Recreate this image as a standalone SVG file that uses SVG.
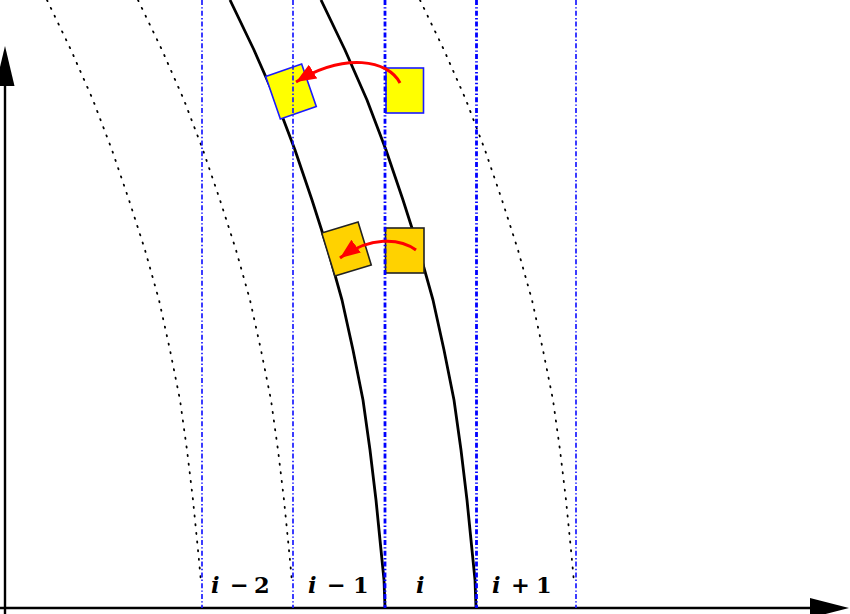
<svg xmlns="http://www.w3.org/2000/svg" xmlns:xlink="http://www.w3.org/1999/xlink" width="850" height="614" viewBox="0 0 850 614">
<style>
.dot{fill:none;stroke:#000;stroke-width:1.8;stroke-dasharray:1.2 7.5;stroke-linecap:round}
.solid{fill:none;stroke:#000;stroke-width:2.8;stroke-linejoin:round}
.thin{stroke:#1a1aff;stroke-width:1.7;stroke-dasharray:5 2.2 1.4 2.2}
.thick{stroke:#0000ff;stroke-width:2.8;stroke-dasharray:5 2.2 1.4 2.2}
.lbl{font-family:"DejaVu Serif","Liberation Serif",serif;font-size:22.5px;font-weight:bold}
.it{font-style:italic}
.red{fill:none;stroke:#ff0000;stroke-width:3}
</style>
<defs>
<polyline id="crv" points="47,0 71,50 93,100 112,150 129,200 145,250 159,300 170,350 180,400 187,450 193,500 198,550 201,580 202,608"/>
<polyline id="crvd" points="47,0 71,50 93,100 112,150 129,200 145,250 159,300 170,350 180,400 187,450 193,500 198,550 201,582"/>
<marker id="ah" markerUnits="userSpaceOnUse" markerWidth="20" markerHeight="16" refX="20" refY="8" orient="auto" viewBox="0 0 20 16">
<path d="M0,0 L20,8 L0,16 z" fill="#ff0000"/>
</marker>
</defs>
<g id="axes">
<line x1="5" y1="614" x2="5" y2="84" stroke="#000" stroke-width="2.4"/>
<polygon points="5,46 -4.5,86 14.5,86" fill="#000"/>
<line x1="0" y1="608" x2="812" y2="608" stroke="#000" stroke-width="2.4"/>
<polygon points="849,608 810,598 810,618" fill="#000"/>
</g>
<g id="curves">
<use xlink:href="#crvd" class="dot"/>
<use xlink:href="#crvd" class="dot" transform="translate(91,0)"/>
<use xlink:href="#crvd" class="dot" transform="translate(373,0)"/>
<use xlink:href="#crv" class="solid" transform="translate(183,0)"/>
<use xlink:href="#crv" class="solid" transform="translate(274,0)"/>
</g>
<g id="cell-yellow-src"><rect x="386" y="68" width="37.5" height="45" fill="#ffff00" stroke="#1a1aff" stroke-width="1.6"/></g>
<g id="cell-yellow-dst"><rect x="-19" y="-22.5" width="38" height="45" fill="#ffff00" stroke="#1a1aff" stroke-width="1.6" transform="translate(291,91.5) rotate(-19)"/></g>
<g id="cell-orange-src"><rect x="385.5" y="228" width="38.5" height="45" fill="#ffd200" stroke="#222" stroke-width="1.6"/></g>
<g id="cell-orange-dst"><rect x="-19" y="-22.5" width="38" height="45" fill="#ffd200" stroke="#222" stroke-width="1.6" transform="translate(346.5,249) rotate(-17)"/></g>
<g id="columns">
<line x1="202" y1="0" x2="202" y2="608" class="thin"/>
<line x1="293" y1="0" x2="293" y2="608" class="thin"/>
<line x1="385" y1="0" x2="385" y2="608" class="thick"/>
<line x1="476.5" y1="0" x2="476.5" y2="608" class="thick"/>
<line x1="576" y1="0" x2="576" y2="608" class="thin"/>
</g>
<g id="arrows">
<path d="M400,83 C388,60 345,52 296,82" class="red" marker-end="url(#ah)"/>
<path d="M416,250 C400,238 370,236 340,258" class="red" stroke-width="2.6" marker-end="url(#ah)"/>
</g>
<g id="labels" class="lbl">
<text y="593"><tspan x="211" class="it">i</tspan><tspan x="230">−</tspan><tspan x="254">2</tspan></text>
<text y="593"><tspan x="308" class="it">i</tspan><tspan x="327">−</tspan><tspan x="353">1</tspan></text>
<text y="593" x="416" class="it">i</text>
<text y="593"><tspan x="492" class="it">i</tspan><tspan x="511">+</tspan><tspan x="536">1</tspan></text>
</g>
</svg>
